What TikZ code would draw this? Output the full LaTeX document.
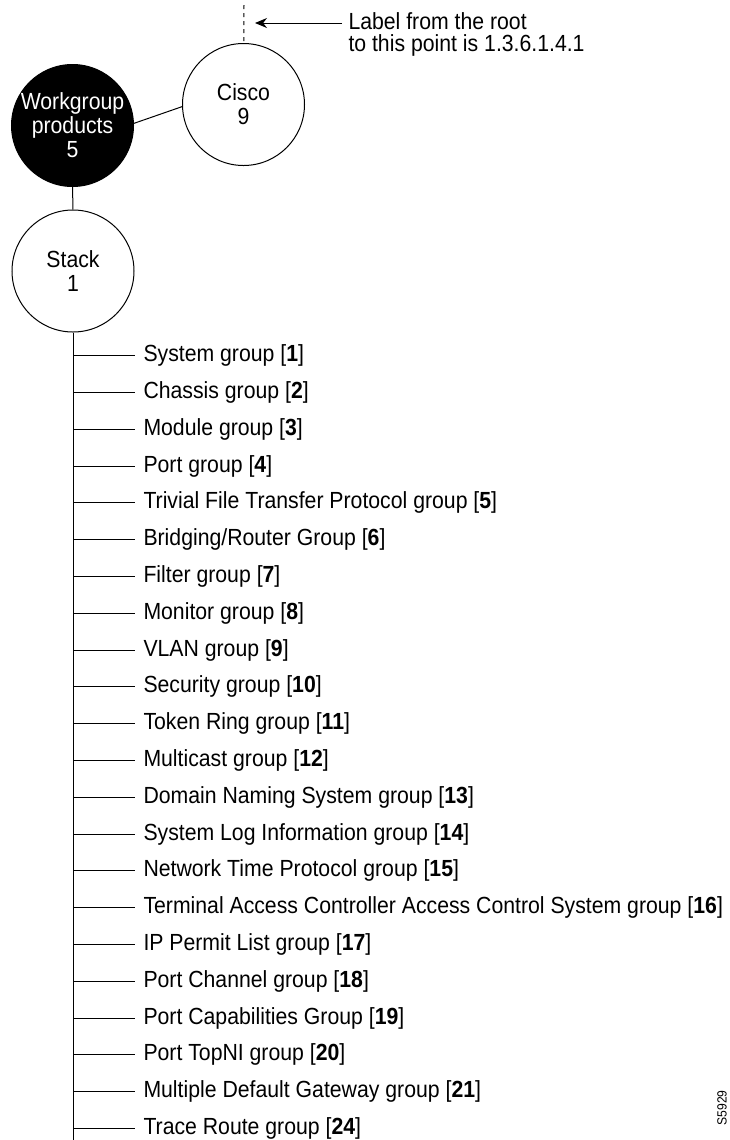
\documentclass[tikz,border=0pt]{standalone}
\usepackage{fontspec}
\setmainfont{Liberation Sans}[FakeStretch=0.91]
\usetikzlibrary{positioning,arrows.meta}
\tikzstyle{oid} = [draw, circle, minimum size=91.5pt, inner sep=-2pt, align=center]
\tikzstyle{mibgroup} = [anchor=west, inner xsep=6pt, inner ysep=0pt]

\begin{document}
\begin{tikzpicture}[x=0.75pt, y=-0.75pt, line width=0.75pt,
    font=\fontsize{17.5pt}{18pt}\selectfont]
\useasboundingbox (0,0) rectangle (730,1140);
			\node[oid] (cisco) at (243.5,104.5) {Cisco\\9};
			\node[oid, fill=black, text=white] (wg) at (72.5,125.5) {Workgroup\\products\\5};
			\node[oid] (stack) at (73,271) {Stack\\1};
			\coordinate (root) at (244,5);
			\coordinate (tip) at (255,23);
			\coordinate (end) at (73,1140);
			\node[anchor=north west, align=left, inner xsep=4.5pt, inner ysep=0pt,
			      font=\fontsize{17.5pt}{16.5pt}\selectfont] (lbl) at (342,12)
			      {Label from the root\\to this point is 1.3.6.1.4.1};
			\node[rotate=90, font=\fontsize{10pt}{12pt}\selectfont] (fig) at (722,1108) {S5929};
			\draw[dash pattern=on 3pt off 3pt] (root) -- (cisco);
			\draw[-{Stealth[length=9pt, width=7.5pt]}] (lbl.west |- tip) -- (tip);
			\draw (wg.2) -- (cisco.182);
			\draw (wg) -- (stack);
			\draw (stack) -- (end);
			\foreach \txt [count=\i] in {{System group [\textbf{1}]},
			    {Chassis group [\textbf{2}]}, {Module group [\textbf{3}]},
			    {Port group [\textbf{4}]},
			    {Trivial File Transfer Protocol group [\textbf{5}]},
			    {Bridging/Router Group [\textbf{6}]}, {Filter group [\textbf{7}]},
			    {Monitor group [\textbf{8}]}, {VLAN group [\textbf{9}]},
			    {Security group [\textbf{10}]}, {Token Ring group [\textbf{11}]},
			    {Multicast group [\textbf{12}]},
			    {Domain Naming System group [\textbf{13}]},
			    {System Log Information group [\textbf{14}]},
			    {Network Time Protocol group [\textbf{15}]},
			    {Terminal Access Controller Access Control System group [\textbf{16}]},
			    {IP Permit List group [\textbf{17}]},
			    {Port Channel group [\textbf{18}]},
			    {Port Capabilities Group [\textbf{19}]},
			    {Port TopNI group [\textbf{20}]},
			    {Multiple Default Gateway group [\textbf{21}]},
			    {Trace Route group [\textbf{24}]}} {
				\node[mibgroup] (g\i) at ({135},{355.7+36.8*(\i-1)}) {\txt};
				\draw (g\i.west -| end) -- (g\i.west);
			}
		\end{tikzpicture}
\end{document}
